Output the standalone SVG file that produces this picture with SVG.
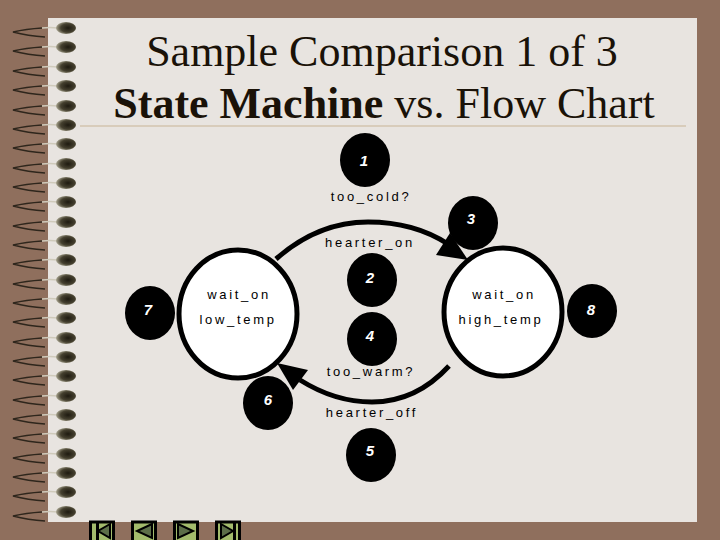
<svg xmlns="http://www.w3.org/2000/svg" xmlns:xlink="http://www.w3.org/1999/xlink" width="720" height="540" viewBox="0 0 720 540">
<style>
.t{font-family:"Liberation Serif",serif;font-size:44px;fill:#1a1208;text-anchor:middle}
.l{font-family:"Liberation Sans",sans-serif;font-size:13px;fill:#000;letter-spacing:2.7px;text-anchor:middle}
.n{fill:#000}
.d{font-family:"Liberation Sans",sans-serif;font-size:15px;font-style:italic;font-weight:bold;fill:#fff;text-anchor:middle}
.s{fill:#fff;stroke:#000;stroke-width:5}
.c{fill:none;stroke:#000;stroke-width:5}
.b{fill:#a3bb6c;stroke:#000;stroke-width:3}
.g{fill:#5c6e48;stroke:#000;stroke-width:2}
.w1{fill:none;stroke:#2e261c;stroke-width:1.6}
.w2{fill:none;stroke:#cfcabb;stroke-width:1.6}
</style>
<defs>
<radialGradient id="bl" cx="0.6" cy="0.5" r="0.6"><stop offset="0" stop-color="#1e1a10"/><stop offset="0.6" stop-color="#45402f"/><stop offset="1" stop-color="#a8a48f"/></radialGradient>
<g id="ring">
<path class="w1" d="M45 5 Q28 4 13 0 Q26 -3 42 -4"/>
<path class="w2" d="M42 -4 Q50 -5 58 -4"/>
<ellipse cx="66" cy="-4" rx="10" ry="6" fill="url(#bl)"/>
</g>
</defs>
<rect width="720" height="540" fill="#8f6f5d"/>
<rect x="48" y="18" width="649" height="504" fill="#e8e4e0"/>
<g id="rings">
<use xlink:href="#ring" y="32"/><use xlink:href="#ring" y="51"/><use xlink:href="#ring" y="71"/><use xlink:href="#ring" y="90"/><use xlink:href="#ring" y="110"/><use xlink:href="#ring" y="129"/><use xlink:href="#ring" y="148"/><use xlink:href="#ring" y="168"/><use xlink:href="#ring" y="187"/><use xlink:href="#ring" y="206"/><use xlink:href="#ring" y="226"/><use xlink:href="#ring" y="245"/><use xlink:href="#ring" y="264"/><use xlink:href="#ring" y="284"/><use xlink:href="#ring" y="303"/><use xlink:href="#ring" y="322"/><use xlink:href="#ring" y="342"/><use xlink:href="#ring" y="361"/><use xlink:href="#ring" y="380"/><use xlink:href="#ring" y="400"/><use xlink:href="#ring" y="419"/><use xlink:href="#ring" y="438"/><use xlink:href="#ring" y="458"/><use xlink:href="#ring" y="477"/><use xlink:href="#ring" y="496"/><use xlink:href="#ring" y="516"/>
</g>
<line x1="80" y1="126" x2="686" y2="126" stroke="#c8b496" stroke-width="1"/>
<text class="t" x="382" y="66">Sample Comparison 1 of 3</text>
<text class="t" x="384" y="118"><tspan font-weight="bold">State Machine</tspan> vs. Flow Chart</text>
<g id="connectors">
<path class="c" d="M276 259 Q318 222 368 222 Q414 222 448 244"/>
<polygon class="n" points="436,255 468,260 450,233"/>
<path class="c" d="M300 380 Q335 402 372 402 Q416 402 449 366"/>
<polygon class="n" points="277,363 308,370 293,390"/>
</g>
<g id="node-1"><ellipse class="n" cx="365" cy="160" rx="25" ry="27"/><text class="d" x="364" y="166">1</text></g>
<g id="node-2"><ellipse class="n" cx="372" cy="280" rx="25" ry="27"/><text class="d" x="370" y="283">2</text></g>
<g id="node-3"><ellipse class="n" cx="473" cy="223" rx="25" ry="27"/><text class="d" x="471" y="224">3</text></g>
<g id="node-4"><ellipse class="n" cx="372" cy="339" rx="25" ry="27"/><text class="d" x="370" y="341">4</text></g>
<g id="node-5"><ellipse class="n" cx="371" cy="455" rx="25" ry="27"/><text class="d" x="370" y="456">5</text></g>
<g id="node-6"><ellipse class="n" cx="268" cy="403" rx="25" ry="27"/><text class="d" x="268" y="405">6</text></g>
<g id="node-7"><ellipse class="n" cx="150" cy="313" rx="25" ry="27"/><text class="d" x="148" y="315">7</text></g>
<g id="node-8"><ellipse class="n" cx="592" cy="311" rx="25" ry="27"/><text class="d" x="591" y="315">8</text></g>
<g id="state-left"><ellipse class="s" cx="238" cy="314" rx="59" ry="64"/><text class="l" x="239" y="299">wait_on</text><text class="l" x="238" y="324">low_temp</text></g>
<g id="state-right"><ellipse class="s" cx="503" cy="312" rx="59" ry="64"/><text class="l" x="504" y="299">wait_on</text><text class="l" x="501" y="324">high_temp</text></g>
<text class="l" x="371" y="201">too_cold?</text>
<text class="l" x="370" y="247">hearter_on</text>
<text class="l" x="371" y="376">too_warm?</text>
<text class="l" x="372" y="417">hearter_off</text>
<g id="nav">
<rect class="b" x="90.500" y="522" width="23" height="20"/><polygon class="g" points="110,524 98,531 110,538"/><rect x="96" y="523" width="3" height="17" fill="#000"/>
<rect class="b" x="132.500" y="522" width="23" height="20"/><polygon class="g" points="152,524 137,531 152,538"/>
<rect class="b" x="174.500" y="522" width="23" height="20"/><polygon class="g" points="178,524 193,531 178,538"/>
<rect class="b" x="216.500" y="522" width="23" height="20"/><polygon class="g" points="221,524 233,531 221,538"/><rect x="233" y="523" width="3" height="17" fill="#000"/>
</g>
</svg>
